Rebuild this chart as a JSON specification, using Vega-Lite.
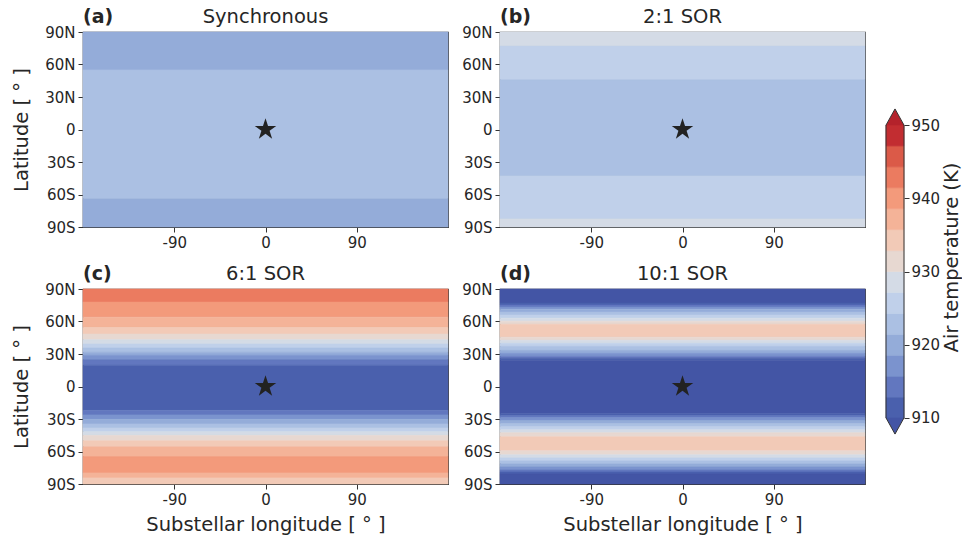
{
  "$schema": "https://vega.github.io/schema/vega-lite/v6.json",
  "padding": {"left": 11, "top": 6, "right": 0, "bottom": 0},
  "background": "white",
  "config": {
    "font": "DejaVu Sans",
    "view": {"stroke": "#333333", "strokeWidth": 1.2},
    "axis": {"grid": false, "domain": false, "tickColor": "#333333", "tickSize": 5, "tickWidth": 1, "labelFont": "DejaVu Sans", "labelFontSize": 15, "labelColor": "#262626", "labelPadding": 3, "labelFlush": false, "labelOverlap": false, "titleFont": "DejaVu Sans", "titleFontSize": 19.5, "titleFontWeight": "normal", "titleColor": "#262626"}
  },
  "datasets": {
    "bands": [
      {"p": "a", "lat0": 55, "lat1": 90, "T": 920},
      {"p": "a", "lat0": -64, "lat1": 55, "T": 922.86},
      {"p": "a", "lat0": -90, "lat1": -64, "T": 920},
      {"p": "b", "lat0": 77, "lat1": 90, "T": 928.57},
      {"p": "b", "lat0": 46, "lat1": 77, "T": 925.71},
      {"p": "b", "lat0": -43, "lat1": 46, "T": 922.86},
      {"p": "b", "lat0": -82.7, "lat1": -43, "T": 925.71},
      {"p": "b", "lat0": -90, "lat1": -82.7, "T": 928.57},
      {"p": "c", "lat0": 77.9, "lat1": 90, "T": 942.86},
      {"p": "c", "lat0": 64, "lat1": 77.9, "T": 940},
      {"p": "c", "lat0": 54.5, "lat1": 64, "T": 937.14},
      {"p": "c", "lat0": 48.4, "lat1": 54.5, "T": 934.29},
      {"p": "c", "lat0": 43.2, "lat1": 48.4, "T": 931.43},
      {"p": "c", "lat0": 39.2, "lat1": 43.2, "T": 928.57},
      {"p": "c", "lat0": 35.5, "lat1": 39.2, "T": 925.71},
      {"p": "c", "lat0": 31.7, "lat1": 35.5, "T": 922.86},
      {"p": "c", "lat0": 28.8, "lat1": 31.7, "T": 920},
      {"p": "c", "lat0": 24.8, "lat1": 28.8, "T": 917.14},
      {"p": "c", "lat0": 19.5, "lat1": 24.8, "T": 914.29},
      {"p": "c", "lat0": -22, "lat1": 19.5, "T": 911.43},
      {"p": "c", "lat0": -26.2, "lat1": -22, "T": 914.29},
      {"p": "c", "lat0": -30.3, "lat1": -26.2, "T": 917.14},
      {"p": "c", "lat0": -34.6, "lat1": -30.3, "T": 920},
      {"p": "c", "lat0": -38.2, "lat1": -34.6, "T": 922.86},
      {"p": "c", "lat0": -41.8, "lat1": -38.2, "T": 925.71},
      {"p": "c", "lat0": -45.2, "lat1": -41.8, "T": 928.57},
      {"p": "c", "lat0": -50.1, "lat1": -45.2, "T": 931.43},
      {"p": "c", "lat0": -55.7, "lat1": -50.1, "T": 934.29},
      {"p": "c", "lat0": -64.7, "lat1": -55.7, "T": 937.14},
      {"p": "c", "lat0": -79.8, "lat1": -64.7, "T": 940},
      {"p": "c", "lat0": -84.4, "lat1": -79.8, "T": 937.14},
      {"p": "c", "lat0": -90, "lat1": -84.4, "T": 934.29},
      {"p": "d", "lat0": 77, "lat1": 90, "T": 908},
      {"p": "d", "lat0": 75.2, "lat1": 77, "T": 911.43},
      {"p": "d", "lat0": 73.3, "lat1": 75.2, "T": 914.29},
      {"p": "d", "lat0": 71.4, "lat1": 73.3, "T": 917.14},
      {"p": "d", "lat0": 68.7, "lat1": 71.4, "T": 920},
      {"p": "d", "lat0": 65.9, "lat1": 68.7, "T": 922.86},
      {"p": "d", "lat0": 63.1, "lat1": 65.9, "T": 925.71},
      {"p": "d", "lat0": 60.3, "lat1": 63.1, "T": 928.57},
      {"p": "d", "lat0": 57.5, "lat1": 60.3, "T": 931.43},
      {"p": "d", "lat0": 45.5, "lat1": 57.5, "T": 934.29},
      {"p": "d", "lat0": 42.7, "lat1": 45.5, "T": 931.43},
      {"p": "d", "lat0": 39.9, "lat1": 42.7, "T": 928.57},
      {"p": "d", "lat0": 37.1, "lat1": 39.9, "T": 925.71},
      {"p": "d", "lat0": 33.4, "lat1": 37.1, "T": 922.86},
      {"p": "d", "lat0": 30.6, "lat1": 33.4, "T": 920},
      {"p": "d", "lat0": 27.8, "lat1": 30.6, "T": 917.14},
      {"p": "d", "lat0": 26, "lat1": 27.8, "T": 914.29},
      {"p": "d", "lat0": 24.1, "lat1": 26, "T": 911.43},
      {"p": "d", "lat0": -25, "lat1": 24.1, "T": 908},
      {"p": "d", "lat0": -26.9, "lat1": -25, "T": 911.43},
      {"p": "d", "lat0": -28.8, "lat1": -26.9, "T": 914.29},
      {"p": "d", "lat0": -31.5, "lat1": -28.8, "T": 917.14},
      {"p": "d", "lat0": -34.3, "lat1": -31.5, "T": 920},
      {"p": "d", "lat0": -37.1, "lat1": -34.3, "T": 922.86},
      {"p": "d", "lat0": -39.9, "lat1": -37.1, "T": 925.71},
      {"p": "d", "lat0": -42.7, "lat1": -39.9, "T": 928.57},
      {"p": "d", "lat0": -46.4, "lat1": -42.7, "T": 931.43},
      {"p": "d", "lat0": -59.4, "lat1": -46.4, "T": 934.29},
      {"p": "d", "lat0": -63.1, "lat1": -59.4, "T": 931.43},
      {"p": "d", "lat0": -65.9, "lat1": -63.1, "T": 928.57},
      {"p": "d", "lat0": -68.7, "lat1": -65.9, "T": 925.71},
      {"p": "d", "lat0": -71.4, "lat1": -68.7, "T": 922.86},
      {"p": "d", "lat0": -74.2, "lat1": -71.4, "T": 920},
      {"p": "d", "lat0": -77, "lat1": -74.2, "T": 917.14},
      {"p": "d", "lat0": -78.9, "lat1": -77, "T": 914.29},
      {"p": "d", "lat0": -80.7, "lat1": -78.9, "T": 911.43},
      {"p": "d", "lat0": -90, "lat1": -80.7, "T": 908}
    ],
    "cbar": [
      {"lo": 910, "hi": 912.857, "T": 911.43},
      {"lo": 912.857, "hi": 915.714, "T": 914.29},
      {"lo": 915.714, "hi": 918.571, "T": 917.14},
      {"lo": 918.571, "hi": 921.429, "T": 920},
      {"lo": 921.429, "hi": 924.286, "T": 922.86},
      {"lo": 924.286, "hi": 927.143, "T": 925.71},
      {"lo": 927.143, "hi": 930, "T": 928.57},
      {"lo": 930, "hi": 932.857, "T": 931.43},
      {"lo": 932.857, "hi": 935.714, "T": 934.29},
      {"lo": 935.714, "hi": 938.571, "T": 937.14},
      {"lo": 938.571, "hi": 941.429, "T": 940},
      {"lo": 941.429, "hi": 944.286, "T": 942.86},
      {"lo": 944.286, "hi": 947.143, "T": 945.71},
      {"lo": 947.143, "hi": 950, "T": 948.57}
    ],
    "panels": [
      {"p": "a", "tag": "(a)", "name": "Synchronous"},
      {"p": "b", "tag": "(b)", "name": "2:1 SOR"},
      {"p": "c", "tag": "(c)", "name": "6:1 SOR"},
      {"p": "d", "tag": "(d)", "name": "10:1 SOR"}
    ],
    "star": [{"lon": 0, "lat": 0}],
    "ends": [{"end": "over"}]
  },
  "spacing": 18,
  "hconcat": [
    {
      "spacing": 12,
      "vconcat": [
        {
          "spacing": 12,
          "hconcat": [
            {
              "width": 365, "height": 195,
              "layer": [
                {
                  "data": {"name": "bands"},
                  "transform": [{"filter": "datum.p === 'a'"}],
                  "mark": {"type": "rect", "strokeWidth": 0.6},
                  "encoding": {
                    "x": {"datum": -180, "type": "quantitative", "scale": {"domain": [-180, 180], "nice": false, "zero": false}, "axis": {"values": [-90, 0, 90], "labelOverlap": false, "labelExpr": "datum.value < 0 ? '-' + abs(datum.value) : '' + datum.value", "title": null}},
                    "x2": {"datum": 180},
                    "y": {"field": "lat0", "type": "quantitative", "scale": {"domain": [-90, 90], "nice": false, "zero": false}, "axis": {"values": [-90, -60, -30, 0, 30, 60, 90], "labelOverlap": false, "labelExpr": "datum.value > 0 ? datum.value + 'N' : (datum.value < 0 ? abs(datum.value) + 'S' : '0')", "title": "Latitude [ ° ]", "titlePadding": 13}},
                    "y2": {"field": "lat1"},
                    "color": {"field": "T", "type": "quantitative", "legend": null, "scale": {"type": "threshold", "domain": [910, 912.857, 915.714, 918.571, 921.429, 924.286, 927.143, 930, 932.857, 935.714, 938.571, 941.429, 944.286, 947.143, 950], "range": ["#4355a5", "#4a60ad", "#6277bf", "#7b93ce", "#94acd9", "#abc0e3", "#c0d0ea", "#d4dbe6", "#e7d8d1", "#f2cab7", "#f4b398", "#f39a7b", "#eb7b60", "#db5a48", "#c22d31", "#b4222b"]}},
                    "stroke": {"field": "T", "type": "quantitative", "legend": null, "scale": {"type": "threshold", "domain": [910, 912.857, 915.714, 918.571, 921.429, 924.286, 927.143, 930, 932.857, 935.714, 938.571, 941.429, 944.286, 947.143, 950], "range": ["#4355a5", "#4a60ad", "#6277bf", "#7b93ce", "#94acd9", "#abc0e3", "#c0d0ea", "#d4dbe6", "#e7d8d1", "#f2cab7", "#f4b398", "#f39a7b", "#eb7b60", "#db5a48", "#c22d31", "#b4222b"]}}
                  }
                },
                {
                  "data": {"name": "star"},
                  "mark": {"type": "point", "shape": "M0,-1L0.2245,-0.309L0.951,-0.309L0.3633,0.118L0.588,0.809L0,0.382L-0.588,0.809L-0.3633,0.118L-0.951,-0.309L-0.2245,-0.309Z", "filled": true, "color": "#222222", "opacity": 1, "size": 510},
                  "encoding": {
                    "x": {"field": "lon", "type": "quantitative", "axis": {"values": [-90, 0, 90], "labelOverlap": false, "labelExpr": "datum.value < 0 ? '-' + abs(datum.value) : '' + datum.value", "title": null}},
                    "y": {"field": "lat", "type": "quantitative", "axis": {"values": [-90, -60, -30, 0, 30, 60, 90], "labelOverlap": false, "labelExpr": "datum.value > 0 ? datum.value + 'N' : (datum.value < 0 ? abs(datum.value) + 'S' : '0')", "title": "Latitude [ ° ]", "titlePadding": 13}}
                  }
                },
                {
                  "data": {"name": "panels"},
                  "transform": [{"filter": "datum.p === 'a'"}],
                  "mark": {"type": "text", "align": "left", "baseline": "alphabetic", "dy": -9, "fontWeight": "bold", "fontSize": 19, "color": "#262626"},
                  "encoding": {
                    "x": {"datum": -180, "type": "quantitative", "axis": {"values": [-90, 0, 90], "labelOverlap": false, "labelExpr": "datum.value < 0 ? '-' + abs(datum.value) : '' + datum.value", "title": null}},
                    "y": {"datum": 90, "type": "quantitative", "axis": {"values": [-90, -60, -30, 0, 30, 60, 90], "labelOverlap": false, "labelExpr": "datum.value > 0 ? datum.value + 'N' : (datum.value < 0 ? abs(datum.value) + 'S' : '0')", "title": "Latitude [ ° ]", "titlePadding": 13}},
                    "text": {"field": "tag"}
                  }
                },
                {
                  "data": {"name": "panels"},
                  "transform": [{"filter": "datum.p === 'a'"}],
                  "mark": {"type": "text", "align": "center", "baseline": "alphabetic", "dy": -9, "fontSize": 19.5, "color": "#262626"},
                  "encoding": {
                    "x": {"datum": 0, "type": "quantitative", "axis": {"values": [-90, 0, 90], "labelOverlap": false, "labelExpr": "datum.value < 0 ? '-' + abs(datum.value) : '' + datum.value", "title": null}},
                    "y": {"datum": 90, "type": "quantitative", "axis": {"values": [-90, -60, -30, 0, 30, 60, 90], "labelOverlap": false, "labelExpr": "datum.value > 0 ? datum.value + 'N' : (datum.value < 0 ? abs(datum.value) + 'S' : '0')", "title": "Latitude [ ° ]", "titlePadding": 13}},
                    "text": {"field": "name"}
                  }
                }
              ]
            },
            {
              "width": 365, "height": 195,
              "layer": [
                {
                  "data": {"name": "bands"},
                  "transform": [{"filter": "datum.p === 'b'"}],
                  "mark": {"type": "rect", "strokeWidth": 0.6},
                  "encoding": {
                    "x": {"datum": -180, "type": "quantitative", "scale": {"domain": [-180, 180], "nice": false, "zero": false}, "axis": {"values": [-90, 0, 90], "labelOverlap": false, "labelExpr": "datum.value < 0 ? '-' + abs(datum.value) : '' + datum.value", "title": null}},
                    "x2": {"datum": 180},
                    "y": {"field": "lat0", "type": "quantitative", "scale": {"domain": [-90, 90], "nice": false, "zero": false}, "axis": {"values": [-90, -60, -30, 0, 30, 60, 90], "labelOverlap": false, "labelExpr": "datum.value > 0 ? datum.value + 'N' : (datum.value < 0 ? abs(datum.value) + 'S' : '0')", "title": null}},
                    "y2": {"field": "lat1"},
                    "color": {"field": "T", "type": "quantitative", "legend": null, "scale": {"type": "threshold", "domain": [910, 912.857, 915.714, 918.571, 921.429, 924.286, 927.143, 930, 932.857, 935.714, 938.571, 941.429, 944.286, 947.143, 950], "range": ["#4355a5", "#4a60ad", "#6277bf", "#7b93ce", "#94acd9", "#abc0e3", "#c0d0ea", "#d4dbe6", "#e7d8d1", "#f2cab7", "#f4b398", "#f39a7b", "#eb7b60", "#db5a48", "#c22d31", "#b4222b"]}},
                    "stroke": {"field": "T", "type": "quantitative", "legend": null, "scale": {"type": "threshold", "domain": [910, 912.857, 915.714, 918.571, 921.429, 924.286, 927.143, 930, 932.857, 935.714, 938.571, 941.429, 944.286, 947.143, 950], "range": ["#4355a5", "#4a60ad", "#6277bf", "#7b93ce", "#94acd9", "#abc0e3", "#c0d0ea", "#d4dbe6", "#e7d8d1", "#f2cab7", "#f4b398", "#f39a7b", "#eb7b60", "#db5a48", "#c22d31", "#b4222b"]}}
                  }
                },
                {
                  "data": {"name": "star"},
                  "mark": {"type": "point", "shape": "M0,-1L0.2245,-0.309L0.951,-0.309L0.3633,0.118L0.588,0.809L0,0.382L-0.588,0.809L-0.3633,0.118L-0.951,-0.309L-0.2245,-0.309Z", "filled": true, "color": "#222222", "opacity": 1, "size": 510},
                  "encoding": {
                    "x": {"field": "lon", "type": "quantitative", "axis": {"values": [-90, 0, 90], "labelOverlap": false, "labelExpr": "datum.value < 0 ? '-' + abs(datum.value) : '' + datum.value", "title": null}},
                    "y": {"field": "lat", "type": "quantitative", "axis": {"values": [-90, -60, -30, 0, 30, 60, 90], "labelOverlap": false, "labelExpr": "datum.value > 0 ? datum.value + 'N' : (datum.value < 0 ? abs(datum.value) + 'S' : '0')", "title": null}}
                  }
                },
                {
                  "data": {"name": "panels"},
                  "transform": [{"filter": "datum.p === 'b'"}],
                  "mark": {"type": "text", "align": "left", "baseline": "alphabetic", "dy": -9, "fontWeight": "bold", "fontSize": 19, "color": "#262626"},
                  "encoding": {
                    "x": {"datum": -180, "type": "quantitative", "axis": {"values": [-90, 0, 90], "labelOverlap": false, "labelExpr": "datum.value < 0 ? '-' + abs(datum.value) : '' + datum.value", "title": null}},
                    "y": {"datum": 90, "type": "quantitative", "axis": {"values": [-90, -60, -30, 0, 30, 60, 90], "labelOverlap": false, "labelExpr": "datum.value > 0 ? datum.value + 'N' : (datum.value < 0 ? abs(datum.value) + 'S' : '0')", "title": null}},
                    "text": {"field": "tag"}
                  }
                },
                {
                  "data": {"name": "panels"},
                  "transform": [{"filter": "datum.p === 'b'"}],
                  "mark": {"type": "text", "align": "center", "baseline": "alphabetic", "dy": -9, "fontSize": 19.5, "color": "#262626"},
                  "encoding": {
                    "x": {"datum": 0, "type": "quantitative", "axis": {"values": [-90, 0, 90], "labelOverlap": false, "labelExpr": "datum.value < 0 ? '-' + abs(datum.value) : '' + datum.value", "title": null}},
                    "y": {"datum": 90, "type": "quantitative", "axis": {"values": [-90, -60, -30, 0, 30, 60, 90], "labelOverlap": false, "labelExpr": "datum.value > 0 ? datum.value + 'N' : (datum.value < 0 ? abs(datum.value) + 'S' : '0')", "title": null}},
                    "text": {"field": "name"}
                  }
                }
              ]
            }
          ]
        },
        {
          "spacing": 12,
          "hconcat": [
            {
              "width": 365, "height": 195,
              "layer": [
                {
                  "data": {"name": "bands"},
                  "transform": [{"filter": "datum.p === 'c'"}],
                  "mark": {"type": "rect", "strokeWidth": 0.6},
                  "encoding": {
                    "x": {"datum": -180, "type": "quantitative", "scale": {"domain": [-180, 180], "nice": false, "zero": false}, "axis": {"values": [-90, 0, 90], "labelOverlap": false, "labelExpr": "datum.value < 0 ? '-' + abs(datum.value) : '' + datum.value", "title": "Substellar longitude [ ° ]", "titlePadding": 8}},
                    "x2": {"datum": 180},
                    "y": {"field": "lat0", "type": "quantitative", "scale": {"domain": [-90, 90], "nice": false, "zero": false}, "axis": {"values": [-90, -60, -30, 0, 30, 60, 90], "labelOverlap": false, "labelExpr": "datum.value > 0 ? datum.value + 'N' : (datum.value < 0 ? abs(datum.value) + 'S' : '0')", "title": "Latitude [ ° ]", "titlePadding": 13}},
                    "y2": {"field": "lat1"},
                    "color": {"field": "T", "type": "quantitative", "legend": null, "scale": {"type": "threshold", "domain": [910, 912.857, 915.714, 918.571, 921.429, 924.286, 927.143, 930, 932.857, 935.714, 938.571, 941.429, 944.286, 947.143, 950], "range": ["#4355a5", "#4a60ad", "#6277bf", "#7b93ce", "#94acd9", "#abc0e3", "#c0d0ea", "#d4dbe6", "#e7d8d1", "#f2cab7", "#f4b398", "#f39a7b", "#eb7b60", "#db5a48", "#c22d31", "#b4222b"]}},
                    "stroke": {"field": "T", "type": "quantitative", "legend": null, "scale": {"type": "threshold", "domain": [910, 912.857, 915.714, 918.571, 921.429, 924.286, 927.143, 930, 932.857, 935.714, 938.571, 941.429, 944.286, 947.143, 950], "range": ["#4355a5", "#4a60ad", "#6277bf", "#7b93ce", "#94acd9", "#abc0e3", "#c0d0ea", "#d4dbe6", "#e7d8d1", "#f2cab7", "#f4b398", "#f39a7b", "#eb7b60", "#db5a48", "#c22d31", "#b4222b"]}}
                  }
                },
                {
                  "data": {"name": "star"},
                  "mark": {"type": "point", "shape": "M0,-1L0.2245,-0.309L0.951,-0.309L0.3633,0.118L0.588,0.809L0,0.382L-0.588,0.809L-0.3633,0.118L-0.951,-0.309L-0.2245,-0.309Z", "filled": true, "color": "#222222", "opacity": 1, "size": 510},
                  "encoding": {
                    "x": {"field": "lon", "type": "quantitative", "axis": {"values": [-90, 0, 90], "labelOverlap": false, "labelExpr": "datum.value < 0 ? '-' + abs(datum.value) : '' + datum.value", "title": "Substellar longitude [ ° ]", "titlePadding": 8}},
                    "y": {"field": "lat", "type": "quantitative", "axis": {"values": [-90, -60, -30, 0, 30, 60, 90], "labelOverlap": false, "labelExpr": "datum.value > 0 ? datum.value + 'N' : (datum.value < 0 ? abs(datum.value) + 'S' : '0')", "title": "Latitude [ ° ]", "titlePadding": 13}}
                  }
                },
                {
                  "data": {"name": "panels"},
                  "transform": [{"filter": "datum.p === 'c'"}],
                  "mark": {"type": "text", "align": "left", "baseline": "alphabetic", "dy": -9, "fontWeight": "bold", "fontSize": 19, "color": "#262626"},
                  "encoding": {
                    "x": {"datum": -180, "type": "quantitative", "axis": {"values": [-90, 0, 90], "labelOverlap": false, "labelExpr": "datum.value < 0 ? '-' + abs(datum.value) : '' + datum.value", "title": "Substellar longitude [ ° ]", "titlePadding": 8}},
                    "y": {"datum": 90, "type": "quantitative", "axis": {"values": [-90, -60, -30, 0, 30, 60, 90], "labelOverlap": false, "labelExpr": "datum.value > 0 ? datum.value + 'N' : (datum.value < 0 ? abs(datum.value) + 'S' : '0')", "title": "Latitude [ ° ]", "titlePadding": 13}},
                    "text": {"field": "tag"}
                  }
                },
                {
                  "data": {"name": "panels"},
                  "transform": [{"filter": "datum.p === 'c'"}],
                  "mark": {"type": "text", "align": "center", "baseline": "alphabetic", "dy": -9, "fontSize": 19.5, "color": "#262626"},
                  "encoding": {
                    "x": {"datum": 0, "type": "quantitative", "axis": {"values": [-90, 0, 90], "labelOverlap": false, "labelExpr": "datum.value < 0 ? '-' + abs(datum.value) : '' + datum.value", "title": "Substellar longitude [ ° ]", "titlePadding": 8}},
                    "y": {"datum": 90, "type": "quantitative", "axis": {"values": [-90, -60, -30, 0, 30, 60, 90], "labelOverlap": false, "labelExpr": "datum.value > 0 ? datum.value + 'N' : (datum.value < 0 ? abs(datum.value) + 'S' : '0')", "title": "Latitude [ ° ]", "titlePadding": 13}},
                    "text": {"field": "name"}
                  }
                }
              ]
            },
            {
              "width": 365, "height": 195,
              "layer": [
                {
                  "data": {"name": "bands"},
                  "transform": [{"filter": "datum.p === 'd'"}],
                  "mark": {"type": "rect", "strokeWidth": 0.6},
                  "encoding": {
                    "x": {"datum": -180, "type": "quantitative", "scale": {"domain": [-180, 180], "nice": false, "zero": false}, "axis": {"values": [-90, 0, 90], "labelOverlap": false, "labelExpr": "datum.value < 0 ? '-' + abs(datum.value) : '' + datum.value", "title": "Substellar longitude [ ° ]", "titlePadding": 8}},
                    "x2": {"datum": 180},
                    "y": {"field": "lat0", "type": "quantitative", "scale": {"domain": [-90, 90], "nice": false, "zero": false}, "axis": {"values": [-90, -60, -30, 0, 30, 60, 90], "labelOverlap": false, "labelExpr": "datum.value > 0 ? datum.value + 'N' : (datum.value < 0 ? abs(datum.value) + 'S' : '0')", "title": null}},
                    "y2": {"field": "lat1"},
                    "color": {"field": "T", "type": "quantitative", "legend": null, "scale": {"type": "threshold", "domain": [910, 912.857, 915.714, 918.571, 921.429, 924.286, 927.143, 930, 932.857, 935.714, 938.571, 941.429, 944.286, 947.143, 950], "range": ["#4355a5", "#4a60ad", "#6277bf", "#7b93ce", "#94acd9", "#abc0e3", "#c0d0ea", "#d4dbe6", "#e7d8d1", "#f2cab7", "#f4b398", "#f39a7b", "#eb7b60", "#db5a48", "#c22d31", "#b4222b"]}},
                    "stroke": {"field": "T", "type": "quantitative", "legend": null, "scale": {"type": "threshold", "domain": [910, 912.857, 915.714, 918.571, 921.429, 924.286, 927.143, 930, 932.857, 935.714, 938.571, 941.429, 944.286, 947.143, 950], "range": ["#4355a5", "#4a60ad", "#6277bf", "#7b93ce", "#94acd9", "#abc0e3", "#c0d0ea", "#d4dbe6", "#e7d8d1", "#f2cab7", "#f4b398", "#f39a7b", "#eb7b60", "#db5a48", "#c22d31", "#b4222b"]}}
                  }
                },
                {
                  "data": {"name": "star"},
                  "mark": {"type": "point", "shape": "M0,-1L0.2245,-0.309L0.951,-0.309L0.3633,0.118L0.588,0.809L0,0.382L-0.588,0.809L-0.3633,0.118L-0.951,-0.309L-0.2245,-0.309Z", "filled": true, "color": "#222222", "opacity": 1, "size": 510},
                  "encoding": {
                    "x": {"field": "lon", "type": "quantitative", "axis": {"values": [-90, 0, 90], "labelOverlap": false, "labelExpr": "datum.value < 0 ? '-' + abs(datum.value) : '' + datum.value", "title": "Substellar longitude [ ° ]", "titlePadding": 8}},
                    "y": {"field": "lat", "type": "quantitative", "axis": {"values": [-90, -60, -30, 0, 30, 60, 90], "labelOverlap": false, "labelExpr": "datum.value > 0 ? datum.value + 'N' : (datum.value < 0 ? abs(datum.value) + 'S' : '0')", "title": null}}
                  }
                },
                {
                  "data": {"name": "panels"},
                  "transform": [{"filter": "datum.p === 'd'"}],
                  "mark": {"type": "text", "align": "left", "baseline": "alphabetic", "dy": -9, "fontWeight": "bold", "fontSize": 19, "color": "#262626"},
                  "encoding": {
                    "x": {"datum": -180, "type": "quantitative", "axis": {"values": [-90, 0, 90], "labelOverlap": false, "labelExpr": "datum.value < 0 ? '-' + abs(datum.value) : '' + datum.value", "title": "Substellar longitude [ ° ]", "titlePadding": 8}},
                    "y": {"datum": 90, "type": "quantitative", "axis": {"values": [-90, -60, -30, 0, 30, 60, 90], "labelOverlap": false, "labelExpr": "datum.value > 0 ? datum.value + 'N' : (datum.value < 0 ? abs(datum.value) + 'S' : '0')", "title": null}},
                    "text": {"field": "tag"}
                  }
                },
                {
                  "data": {"name": "panels"},
                  "transform": [{"filter": "datum.p === 'd'"}],
                  "mark": {"type": "text", "align": "center", "baseline": "alphabetic", "dy": -9, "fontSize": 19.5, "color": "#262626"},
                  "encoding": {
                    "x": {"datum": 0, "type": "quantitative", "axis": {"values": [-90, 0, 90], "labelOverlap": false, "labelExpr": "datum.value < 0 ? '-' + abs(datum.value) : '' + datum.value", "title": "Substellar longitude [ ° ]", "titlePadding": 8}},
                    "y": {"datum": 90, "type": "quantitative", "axis": {"values": [-90, -60, -30, 0, 30, 60, 90], "labelOverlap": false, "labelExpr": "datum.value > 0 ? datum.value + 'N' : (datum.value < 0 ? abs(datum.value) + 'S' : '0')", "title": null}},
                    "text": {"field": "name"}
                  }
                }
              ]
            }
          ]
        }
      ]
    },
    {
      "width": 18, "height": 450,
      "view": {"stroke": null},
      "layer": [
        {
          "data": {"name": "cbar"},
          "mark": {"type": "rect", "strokeWidth": 0.6},
          "encoding": {
            "x": {"datum": 0, "type": "quantitative", "scale": {"domain": [0, 1], "nice": false, "zero": false}, "axis": null},
            "x2": {"datum": 1},
            "y": {"field": "lo", "type": "quantitative", "scale": {"domain": [901.26, 962.7], "nice": false, "zero": false}, "axis": {"orient": "right", "values": [910, 920, 930, 940, 950], "labelOverlap": false, "labelPadding": 2, "title": "Air temperature (K)", "titleAngle": 270, "titleBaseline": "top", "titlePadding": 3}},
            "y2": {"field": "hi"},
            "color": {"field": "T", "type": "quantitative", "legend": null, "scale": {"type": "threshold", "domain": [910, 912.857, 915.714, 918.571, 921.429, 924.286, 927.143, 930, 932.857, 935.714, 938.571, 941.429, 944.286, 947.143, 950], "range": ["#4355a5", "#4a60ad", "#6277bf", "#7b93ce", "#94acd9", "#abc0e3", "#c0d0ea", "#d4dbe6", "#e7d8d1", "#f2cab7", "#f4b398", "#f39a7b", "#eb7b60", "#db5a48", "#c22d31", "#b4222b"]}},
            "stroke": {"field": "T", "type": "quantitative", "legend": null, "scale": {"type": "threshold", "domain": [910, 912.857, 915.714, 918.571, 921.429, 924.286, 927.143, 930, 932.857, 935.714, 938.571, 941.429, 944.286, 947.143, 950], "range": ["#4355a5", "#4a60ad", "#6277bf", "#7b93ce", "#94acd9", "#abc0e3", "#c0d0ea", "#d4dbe6", "#e7d8d1", "#f2cab7", "#f4b398", "#f39a7b", "#eb7b60", "#db5a48", "#c22d31", "#b4222b"]}}
          }
        },
        {
          "data": {"name": "ends"},
          "mark": {"type": "point", "shape": "M-1,0.9L1,0.9L0,-0.9Z", "filled": true, "size": 324, "color": "#b4222b", "opacity": 1},
          "encoding": {"x": {"datum": 0.5, "type": "quantitative"}, "y": {"datum": 951.09, "type": "quantitative"}}
        },
        {
          "data": {"name": "ends"},
          "mark": {"type": "point", "shape": "M-1,-0.9L1,-0.9L0,0.9Z", "filled": true, "size": 324, "color": "#4355a5", "opacity": 1},
          "encoding": {"x": {"datum": 0.5, "type": "quantitative"}, "y": {"datum": 908.91, "type": "quantitative"}}
        },
        {
          "data": {"name": "ends"},
          "mark": {"type": "point", "shape": "M-1,0.9L0,-0.9L1,0.9", "filled": false, "size": 324, "stroke": "#333333", "strokeWidth": 1, "opacity": 1},
          "encoding": {"x": {"datum": 0.5, "type": "quantitative"}, "y": {"datum": 951.09, "type": "quantitative"}}
        },
        {
          "data": {"name": "ends"},
          "mark": {"type": "point", "shape": "M-1,-0.9L0,0.9L1,-0.9", "filled": false, "size": 324, "stroke": "#333333", "strokeWidth": 1, "opacity": 1},
          "encoding": {"x": {"datum": 0.5, "type": "quantitative"}, "y": {"datum": 908.91, "type": "quantitative"}}
        },
        {
          "data": {"name": "ends"},
          "mark": {"type": "rule", "color": "#333333", "strokeWidth": 1},
          "encoding": {"x": {"datum": 0, "type": "quantitative"}, "y": {"datum": 910, "type": "quantitative"}, "y2": {"datum": 950}}
        },
        {
          "data": {"name": "ends"},
          "mark": {"type": "rule", "color": "#333333", "strokeWidth": 1},
          "encoding": {"x": {"datum": 1, "type": "quantitative"}, "y": {"datum": 910, "type": "quantitative"}, "y2": {"datum": 950}}
        }
      ]
    }
  ]
}
